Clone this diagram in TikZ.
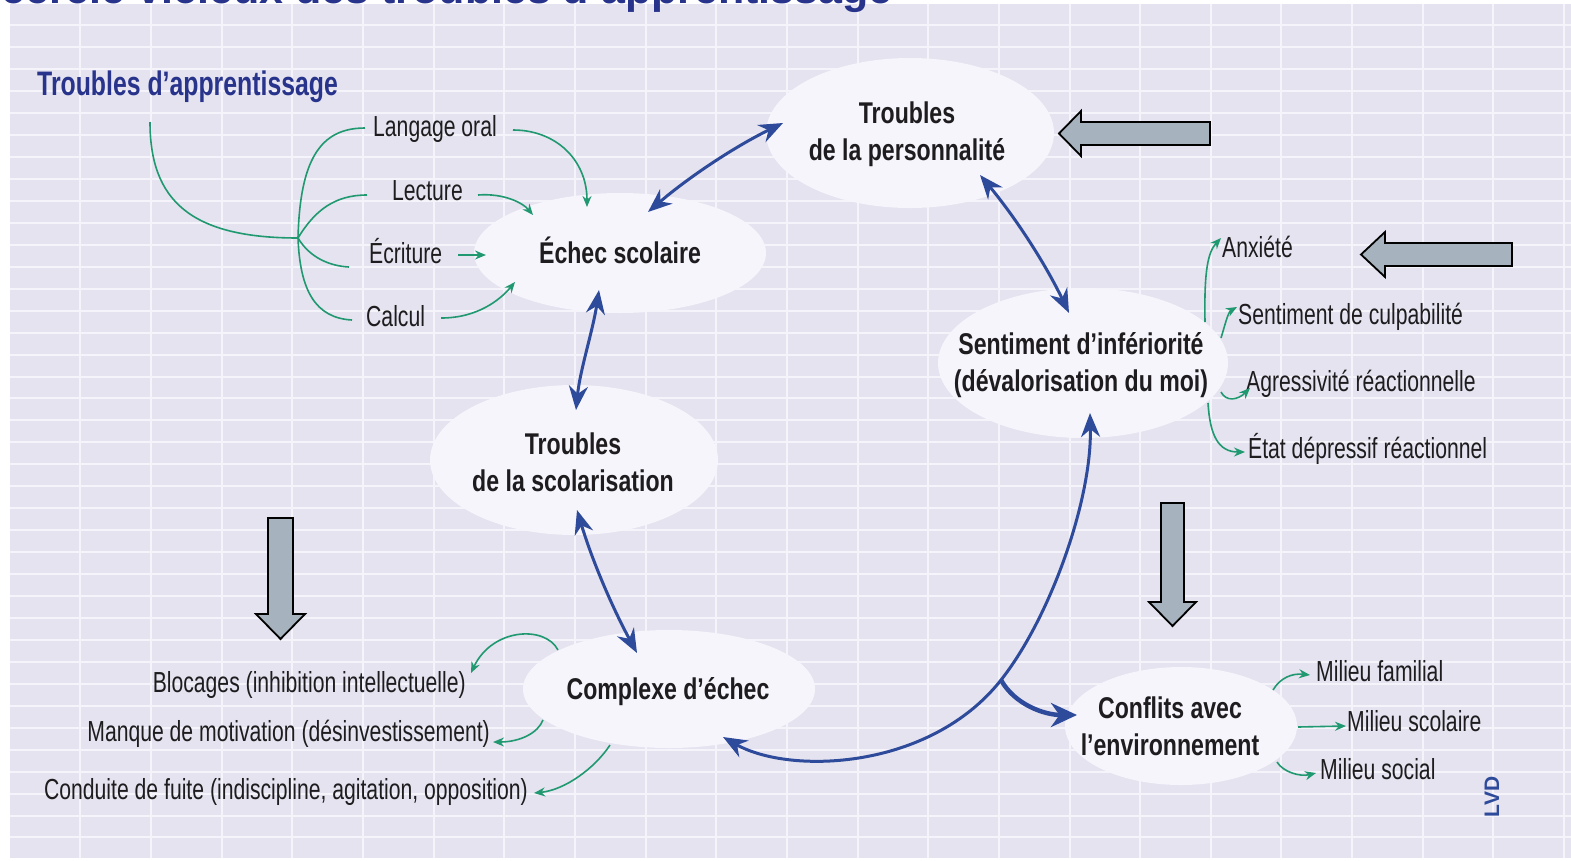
\documentclass[tikz,border=0pt]{standalone}
\usepackage{fontspec}
\usepackage{tikz}
\usetikzlibrary{arrows.meta,shapes.geometric}
\setmainfont{Liberation Sans}
\newfontfamily\sidefont{Liberation Sans}[FakeStretch=0.73]
\newfontfamily\bubblefont{Liberation Sans}[FakeStretch=0.77]

\definecolor{bgcol}{RGB}{228,227,239}
\definecolor{gridcol}{RGB}{245,244,250}
\definecolor{bubblecol}{RGB}{246,245,251}
\definecolor{linkblue}{RGB}{46,74,154}
\definecolor{titleblue}{RGB}{40,52,140}
\definecolor{linkgreen}{RGB}{32,152,112}
\definecolor{pointergrey}{RGB}{166,178,190}
\definecolor{textcol}{RGB}{30,28,30}

\tikzset{
	gridline/.style={draw=gridcol, line width=2pt},
	bubble/.style={ellipse, fill=bubblecol, inner sep=0pt},
	bubbletext/.style={font=\bubblefont\bfseries\fontsize{30}{37}\selectfont, text=textcol, align=center, inner sep=0pt},
	sidetext/.style={font=\sidefont\fontsize{29}{34}\selectfont, text=textcol, inner sep=0pt, text height=20pt, text depth=0pt},
	bluelink/.style={draw=linkblue, line width=3pt, >={Stealth[length=24pt,width=19pt]}, <->},
	forklink/.style={draw=linkblue, line width=4.5pt, -{Stealth[length=26pt,width=24pt]}},
	greenline/.style={draw=linkgreen, line width=1.6pt},
	greenlink/.style={draw=linkgreen, line width=1.6pt, -{Stealth[length=11pt,width=9pt]}},
	pointer/.style={draw=black, fill=pointergrey, line width=1.8pt, line join=miter}
}

\begin{document}
\begin{tikzpicture}[x=1pt,y=-1pt]
		\useasboundingbox (0,0) rectangle (1571,860);
		\clip (0,0) rectangle (1571,860);
		
		% fond quadrille
		\path[fill=bgcol] (10,4) rectangle (1571,858);
		\foreach \i in {0,...,21}
			\draw[gridline] ({80.4+70.65*\i},4) -- ({80.4+70.65*\i},858);
		\foreach \j in {0,...,37}
			\draw[gridline] (10,{25.3+21.95*\j}) -- (1571,{25.3+21.95*\j});
		
		\node[anchor=base east, inner sep=0pt, text=titleblue, font=\bfseries\fontsize{43}{50}\selectfont] (maintitle) at (893,3.5) {Le cercle vicieux des troubles d’apprentissage};
		
		% bulles
		\node[bubble, minimum width=288pt, minimum height=150pt] (perso) at (910,133) {};
		\node[bubble, minimum width=292pt, minimum height=120pt] (echec) at (620,253) {};
		\node[bubble, minimum width=288pt, minimum height=150pt] (scol) at (574,460) {};
		\node[bubble, minimum width=292pt, minimum height=118pt] (compl) at (669,689) {};
		\node[bubble, minimum width=290pt, minimum height=150pt] (senti) at (1083,363) {};
		\node[bubble, minimum width=232pt, minimum height=118pt] (confl) at (1181,726) {};
		
		\node[bubbletext] (perso-txt) at ([shift={(-3,1)}]perso.center) {Troubles\\de la personnalité};
		\node[bubbletext] (echec-txt) at ([shift={(0,-3)}]echec.center) {Échec scolaire};
		\node[bubbletext] (scol-txt) at ([shift={(-1,2)}]scol.center) {Troubles\\de la scolarisation};
		\node[bubbletext] (compl-txt) at ([shift={(-1,3)}]compl.center) {Complexe d’échec};
		\node[bubbletext] (senti-txt) at ([shift={(-2,2)}]senti.center) {Sentiment d’infériorité\\(dévalorisation du moi)};
		\node[bubbletext] (confl-txt) at ([shift={(-11,0)}]confl.center) {Conflits avec\\l’environnement};
		
		% textes lateraux
		\node[anchor=west, inner sep=0pt, text=titleblue, font=\sidefont\bfseries\fontsize{34}{40}\selectfont] (appr) at (37,87) {Troubles d’apprentissage};
		\node[sidetext, anchor=west] (langage) at (373,126) {Langage oral};
		\node[sidetext, anchor=west] (lecture) at (392,190) {Lecture};
		\node[sidetext, anchor=west] (ecriture) at (369,253) {Écriture};
		\node[sidetext, anchor=west] (calcul) at (366,316) {Calcul};
		\node[sidetext, anchor=west] (anx) at (1222,247) {Anxiété};
		\node[sidetext, anchor=west] (culp) at (1238,314) {Sentiment de culpabilité};
		\node[sidetext, anchor=west] (agress) at (1246,381) {Agressivité réactionnelle};
		\node[sidetext, anchor=west] (etat) at (1248,448) {État dépressif réactionnel};
		\node[sidetext, anchor=east] (bloc) at (466,682) {Blocages (inhibition intellectuelle)};
		\node[sidetext, anchor=east] (manque) at (490,731) {Manque de motivation (désinvestissement)};
		\node[sidetext, anchor=east] (conduite) at (528,789) {Conduite de fuite (indiscipline, agitation, opposition)};
		\node[sidetext, anchor=west] (famil) at (1316,671) {Milieu familial};
		\node[sidetext, anchor=west] (mscol) at (1347,721) {Milieu scolaire};
		\node[sidetext, anchor=west] (social) at (1320,769) {Milieu social};
		\node[rotate=90, inner sep=0pt, text=linkblue, font=\bfseries\fontsize{21}{24}\selectfont] (lvd) at (1492,797) {LVD};
		
		% grosses fleches grises
		\path[pointer] (1059,133.5) -- (1081,111) -- (1081,122) -- (1210,122) -- (1210,145) -- (1081,145) -- (1081,156) -- cycle;
		\path[pointer] (1361,254.5) -- (1385,232) -- (1385,243) -- (1512,243) -- (1512,266) -- (1385,266) -- (1385,277) -- cycle;
		\path[pointer] (280.5,639) -- (256,614) -- (268,614) -- (268,518) -- (293,518) -- (293,614) -- (305,614) -- cycle;
		\path[pointer] (1172.5,626) -- (1149,602) -- (1161,602) -- (1161,503) -- (1184,503) -- (1184,602) -- (1196,602) -- cycle;
		
		% cercle vicieux
		\coordinate (root) at (298,238);
		\coordinate (fork) at (1001,680);
		\draw[bluelink] ([shift={(28,-41)}]echec.center) .. controls +(41,-35) and +(-49,24) .. ([shift={(-127,-10)}]perso.center);
		\draw[bluelink] ([shift={(70,42)}]perso.center) .. controls +(35,42) and +(-24,-50) .. ([shift={(-14,-50)}]senti.center);
		\draw[bluelink] ([shift={(-21,37)}]echec.center) .. controls +(-6,40) and +(4,-40) .. ([shift={(2,-50)}]scol.center);
		\draw[bluelink] ([shift={(3,50)}]scol.center) .. controls +(15,50) and +(-25,-46) .. ([shift={(-32,-36)}]compl.center);
		\draw[bluelink] ([shift={(54,48)}]compl.center) .. controls +(67,38) and +(-71,90) .. (fork) .. controls +(49,-62) and +(2,87) .. ([shift={(7,50)}]senti.center);
		\draw[forklink] (fork) .. controls +(14,25) and +(-32,0) .. ([shift={(-104,-11)}]confl.center);
		
		% arbre des troubles
		\draw[greenline] ([shift={(113,35)}]appr.west) .. controls +(0,78) and +(-108,0) .. (root);
		\draw[greenline] (root) .. controls +(2,-78) and +(-45,0) .. ([shift={(-8,2)}]langage.west);
		\draw[greenline] (root) .. controls +(17,-28) and +(-32,0) .. ([shift={(-25,5)}]lecture.west);
		\draw[greenline] (root) .. controls +(12,20) and +(-19,-1) .. ([shift={(-20,14)}]ecriture.west);
		\draw[greenline] (root) .. controls +(2,52) and +(-37,-2) .. ([shift={(-14,4)}]calcul.west);
		\draw[greenlink] ([shift={(16,4)}]langage.east) .. controls +(43,0) and +(0,-47) .. ([shift={(-33,-46)}]echec.center);
		\draw[greenlink] ([shift={(15,5)}]lecture.east) .. controls +(26,-2) and +(-10,-12) .. ([shift={(-87,-38)}]echec.center);
		\draw[greenlink] ([shift={(16,2)}]ecriture.east) -- ([shift={(-134,2)}]echec.center);
		\draw[greenlink] ([shift={(16,2)}]calcul.east) .. controls +(36,0) and +(-15,18) .. ([shift={(-105,29)}]echec.center);
		
		% consequences
		\draw[greenlink] ([shift={(122,-41)}]senti.center) .. controls +(-1,-52) and +(-13,14) .. ([shift={(-1,-9)}]anx.west);
		\draw[greenlink] ([shift={(138,-25)}]senti.center) .. controls +(4,-13) and +(-9,5) .. ([shift={(-1,-7)}]culp.west);
		\draw[greenlink] ([shift={(138,29)}]senti.center) .. controls +(5,10) and +(-12,12) .. ([shift={(4,7)}]agress.west);
		\draw[greenlink] ([shift={(125,40)}]senti.center) .. controls +(2,32) and +(-27,0) .. ([shift={(-3,4)}]etat.west);
		\draw[greenlink] ([shift={(-111,-39)}]compl.center) .. controls +(-13,-25) and +(21,-45) .. ([shift={(5,-9)}]bloc.east);
		\draw[greenlink] ([shift={(-126,31)}]compl.center) .. controls +(-5,13) and +(27,0) .. ([shift={(3,11)}]manque.east);
		\draw[greenlink] ([shift={(-59,56)}]compl.center) .. controls +(-15,23) and +(31,-3) .. ([shift={(6,4)}]conduite.east);
		\draw[greenlink] ([shift={(92,-36)}]confl.center) .. controls +(7,-12) and +(-18,-2) .. ([shift={(-6,4)}]famil.west);
		\draw[greenlink] ([shift={(117,1)}]confl.center) -- ([shift={(-1,5)}]mscol.west);
		\draw[greenlink] ([shift={(96,36)}]confl.center) .. controls +(6,10) and +(-16,4) .. ([shift={(-4,4)}]social.west);
\end{tikzpicture}
\end{document}
